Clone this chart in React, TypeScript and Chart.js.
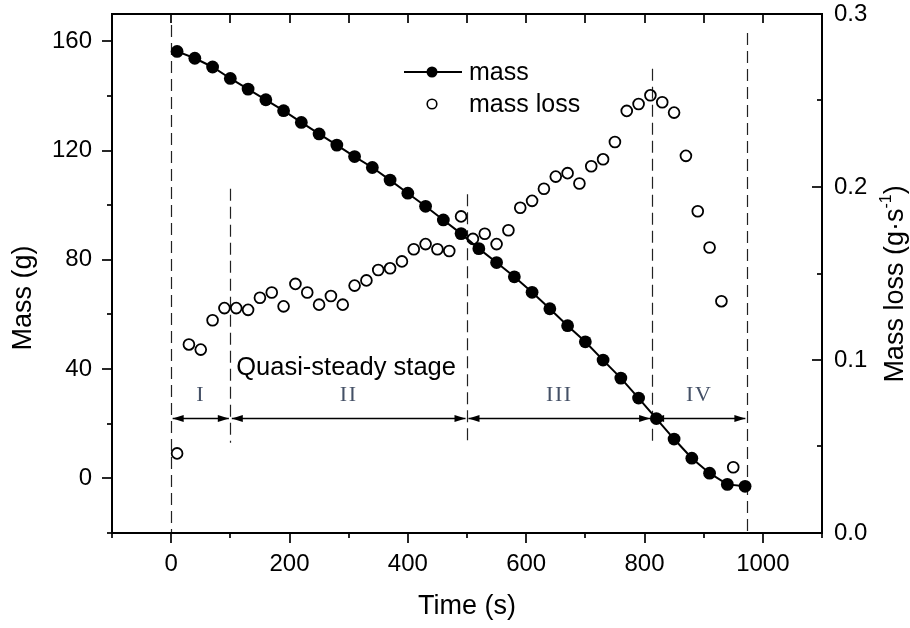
import React, { useEffect, useRef } from 'react';
import { Chart, registerables } from 'chart.js';

Chart.register(...registerables);

// ---- data ----
const massTime = [10, 40, 70, 100, 130, 160, 190, 220, 250, 280, 310, 340, 370, 400, 430, 460, 490, 520, 550, 580, 610, 640, 670, 700, 730, 760, 790, 820, 850, 880, 910, 940, 970];
const massValues = [156.3, 153.8, 150.6, 146.4, 142.5, 138.6, 134.6, 130.3, 126.1, 122.0, 117.8, 113.8, 109.2, 104.4, 99.6, 94.6, 89.6, 84.1, 79.0, 73.8, 68.1, 62.1, 55.9, 50.0, 43.3, 36.7, 29.4, 21.9, 14.4, 7.4, 1.9, -2.2, -2.9];

const lossTime = [10, 30, 50, 70, 90, 110, 130, 150, 170, 190, 210, 230, 250, 270, 290, 310, 330, 350, 370, 390, 410, 430, 450, 470, 490, 510, 530, 550, 570, 590, 610, 630, 650, 670, 690, 710, 730, 750, 770, 790, 810, 830, 850, 870, 890, 910, 930, 950];
const lossValues = [0.046, 0.109, 0.106, 0.123, 0.130, 0.130, 0.129, 0.136, 0.139, 0.131, 0.144, 0.139, 0.132, 0.137, 0.132, 0.143, 0.146, 0.152, 0.153, 0.157, 0.164, 0.167, 0.164, 0.163, 0.183, 0.170, 0.173, 0.167, 0.175, 0.188, 0.192, 0.199, 0.206, 0.208, 0.202, 0.212, 0.216, 0.226, 0.244, 0.248, 0.253, 0.249, 0.243, 0.218, 0.186, 0.165, 0.134, 0.038];

// ---- ticks ----
const xTickValues = [0, 200, 400, 600, 800, 1000];
const xAllTicks = [-100, 0, 100, 200, 300, 400, 500, 600, 700, 800, 900, 1000, 1100];
const xTopTicks = [0, 100, 200, 300, 400, 500, 600, 700, 800, 900, 1000];
const yTickValues = [0, 40, 80, 120, 160];
const yAllTicks = [-20, 0, 20, 40, 60, 80, 100, 120, 140, 160];
const y1TickValues = [0, 0.1, 0.2, 0.3];
const y1AllTicks = [0, 0.05, 0.1, 0.15, 0.2, 0.25, 0.3];

// ---- annotations (data units) ----
const stageBounds = [0, 100, 500, 812, 973];
const dividerTop = [166, 106, 104, 150, 163];
const dividerBottom = [-20, 13, 13, 13, -20];
const arrowLevel = 22;
const stageLabels = ['I', 'II', 'III', 'IV'];
const stageLabelLevel = 30.5;
const quasiText = 'Quasi-steady stage';
const quasiX = 110;
const quasiY = 38;

const SANS = '"Liberation Sans", Arial, sans-serif';
const SERIF = '"Liberation Serif", "Times New Roman", serif';

const decor = {
  id: 'decor',
  beforeDatasetsDraw(chart: any) {
    const { ctx, scales } = chart;
    const x = scales.x;
    const y = scales.y;
    ctx.save();
    ctx.setLineDash([12, 6]);
    ctx.lineWidth = 1.2;
    ctx.strokeStyle = '#222';
    stageBounds.forEach((b, i) => {
      const px = Math.round(x.getPixelForValue(b)) + 0.5;
      ctx.beginPath();
      ctx.moveTo(px, y.getPixelForValue(dividerTop[i]));
      ctx.lineTo(px, y.getPixelForValue(dividerBottom[i]));
      ctx.stroke();
    });
    ctx.setLineDash([]);
    const ay = Math.round(y.getPixelForValue(arrowLevel)) + 0.5;
    ctx.fillStyle = '#000';
    ctx.strokeStyle = '#000';
    ctx.lineWidth = 1.3;
    for (let i = 0; i < stageBounds.length - 1; i++) {
      const x0 = x.getPixelForValue(stageBounds[i]) + 1.5;
      const x1 = x.getPixelForValue(stageBounds[i + 1]) - 1.5;
      ctx.beginPath();
      ctx.moveTo(x0, ay);
      ctx.lineTo(x1, ay);
      ctx.stroke();
      const L = 11, H = 3.5;
      ctx.beginPath();
      ctx.moveTo(x0, ay);
      ctx.lineTo(x0 + L, ay - H);
      ctx.lineTo(x0 + L, ay + H);
      ctx.closePath();
      ctx.fill();
      ctx.beginPath();
      ctx.moveTo(x1, ay);
      ctx.lineTo(x1 - L, ay - H);
      ctx.lineTo(x1 - L, ay + H);
      ctx.closePath();
      ctx.fill();
      ctx.save();
      ctx.font = `22px ${SERIF}`;
      ctx.fillStyle = '#445066';
      ctx.textAlign = 'center';
      ctx.textBaseline = 'middle';
      (ctx as any).letterSpacing = '1.5px';
      const cx = (x.getPixelForValue(stageBounds[i]) + x.getPixelForValue(stageBounds[i + 1])) / 2;
      ctx.fillText(stageLabels[i], cx, y.getPixelForValue(stageLabelLevel));
      ctx.restore();
    }
    ctx.font = `25.5px ${SANS}`;
    ctx.fillStyle = '#000';
    ctx.textAlign = 'left';
    ctx.textBaseline = 'alphabetic';
    ctx.fillText(quasiText, x.getPixelForValue(quasiX), y.getPixelForValue(quasiY));
    ctx.restore();
  },
  afterDraw(chart: any) {
    const { ctx, chartArea, scales } = chart;
    const { left, right, top, bottom } = chartArea;
    const x = scales.x, y = scales.y, y1 = scales.y1;
    ctx.save();
    ctx.strokeStyle = '#000';
    ctx.lineWidth = 2;
    ctx.strokeRect(left, top, right - left, bottom - top);
    ctx.lineWidth = 1.7;
    const line = (a: number, b: number, c: number, d: number) => {
      ctx.beginPath(); ctx.moveTo(a, b); ctx.lineTo(c, d); ctx.stroke();
    };
    xAllTicks.forEach(v => {
      const px = Math.round(x.getPixelForValue(v));
      const len = xTickValues.includes(v) ? 10 : 5;
      line(px, bottom, px, bottom + len);
    });
    xTopTicks.forEach(v => {
      const px = Math.round(x.getPixelForValue(v));
      line(px, top, px, top + 9);
    });
    yAllTicks.forEach(v => {
      const py = Math.round(y.getPixelForValue(v));
      const len = yTickValues.includes(v) ? 10 : 5;
      line(left, py, left - len, py);
    });
    y1AllTicks.forEach(v => {
      const py = Math.round(y1.getPixelForValue(v));
      const len = y1TickValues.some(t => Math.abs(t - v) < 1e-9) ? 10 : 5;
      line(right, py, right - len, py);
    });

    ctx.fillStyle = '#000';
    ctx.font = `27px ${SANS}`;
    ctx.textAlign = 'center';
    ctx.textBaseline = 'middle';
    ctx.fillText('Time (s)', (left + right) / 2, 607);
    ctx.save();
    ctx.translate(24, 298);
    ctx.rotate(-Math.PI / 2);
    ctx.fillText('Mass (g)', 0, 0);
    ctx.restore();
    ctx.save();
    ctx.translate(896, 284);
    ctx.rotate(-Math.PI / 2);
    const main = 'Mass loss (g·s';
    const sup = '-1';
    const end = ')';
    ctx.font = `27px ${SANS}`;
    const wMain = ctx.measureText(main).width;
    const wEnd = ctx.measureText(end).width;
    ctx.font = `16px ${SANS}`;
    const wSup = ctx.measureText(sup).width;
    const total = wMain + wSup + wEnd;
    let cx = -total / 2;
    ctx.textAlign = 'left';
    ctx.font = `27px ${SANS}`;
    ctx.fillText(main, cx, 0);
    cx += wMain;
    ctx.font = `16px ${SANS}`;
    ctx.fillText(sup, cx, -9);
    cx += wSup;
    ctx.font = `27px ${SANS}`;
    ctx.fillText(end, cx, 0);
    ctx.restore();

    const lx = 432;
    const ly1 = 72;
    const ly2 = 104;
    ctx.lineWidth = 2;
    line(404, ly1, 462, ly1);
    ctx.beginPath();
    ctx.arc(lx, ly1, 5.5, 0, Math.PI * 2);
    ctx.fill();
    ctx.lineWidth = 1.6;
    ctx.beginPath();
    ctx.arc(lx, ly2, 4.8, 0, Math.PI * 2);
    ctx.stroke();
    ctx.font = `25px ${SANS}`;
    ctx.textAlign = 'left';
    ctx.textBaseline = 'middle';
    ctx.fillText('mass', 469, ly1 + 1);
    ctx.fillText('mass loss', 469, ly2 + 1);
    ctx.restore();
  },
};

export default function App() {
  const ref = useRef<HTMLCanvasElement>(null);
  useEffect(() => {
    document.body.style.margin = '0';
    const canvas = ref.current;
    if (!canvas) return;
    const tickFont = { family: SANS, size: 24 };
    const noPadV = (s: any) => { s.paddingTop = 0; s.paddingBottom = 0; };
    const chart = new Chart(canvas, {
      type: 'scatter',
      data: {
        datasets: [
          {
            label: 'mass',
            data: massTime.map((t, i) => ({ x: t, y: massValues[i] })),
            yAxisID: 'y',
            showLine: true,
            borderColor: '#000',
            borderWidth: 2,
            pointRadius: 6.4,
            pointBackgroundColor: '#000',
            pointBorderColor: '#000',
            pointBorderWidth: 0,
          },
          {
            label: 'mass loss',
            data: lossTime.map((t, i) => ({ x: t, y: lossValues[i] })),
            yAxisID: 'y1',
            showLine: false,
            pointRadius: 5.4,
            pointBackgroundColor: 'rgba(0,0,0,0)',
            pointBorderColor: '#000',
            pointBorderWidth: 1.8,
          },
        ],
      },
      options: {
        animation: false,
        responsive: false,
        maintainAspectRatio: false,
        layout: { padding: { top: 14, left: 0, right: 0, bottom: 0 } },
        plugins: { legend: { display: false }, tooltip: { enabled: false } },
        scales: {
          x: {
            type: 'linear',
            position: 'bottom',
            min: -100,
            max: 1100,
            grid: { display: false },
            border: { display: false },
            ticks: { font: tickFont, color: '#000', padding: 9, maxRotation: 0, autoSkip: false, callback: (v: any) => String(v) },
            afterBuildTicks: (s: any) => { s.ticks = xTickValues.map(v => ({ value: v })); },
            afterFit: (s: any) => { s.height = 95; s.paddingLeft = 0; s.paddingRight = 0; },
          },
          y: {
            type: 'linear',
            position: 'left',
            min: -20,
            max: 170,
            grid: { display: false },
            border: { display: false },
            ticks: { font: tickFont, color: '#000', padding: 12, autoSkip: false, callback: (v: any) => String(v) },
            afterBuildTicks: (s: any) => { s.ticks = yTickValues.map(v => ({ value: v })); },
            afterFit: (s: any) => { s.width = 112; noPadV(s); },
          },
          y1: {
            type: 'linear',
            position: 'right',
            min: 0,
            max: 0.3,
            grid: { display: false },
            border: { display: false },
            ticks: { font: tickFont, color: '#000', padding: 4, autoSkip: false, callback: (v: any) => Number(v).toFixed(1) },
            afterBuildTicks: (s: any) => { s.ticks = y1TickValues.map(v => ({ value: v })); },
            afterFit: (s: any) => { s.width = 88; noPadV(s); },
          },
        },
      },
      plugins: [decor],
    } as any);
    return () => chart.destroy();
  }, []);
  return (
    <div style={{ width: 910, height: 628 }}>
      <canvas ref={ref} width={910} height={628} style={{ display: 'block' }} />
    </div>
  );
}
